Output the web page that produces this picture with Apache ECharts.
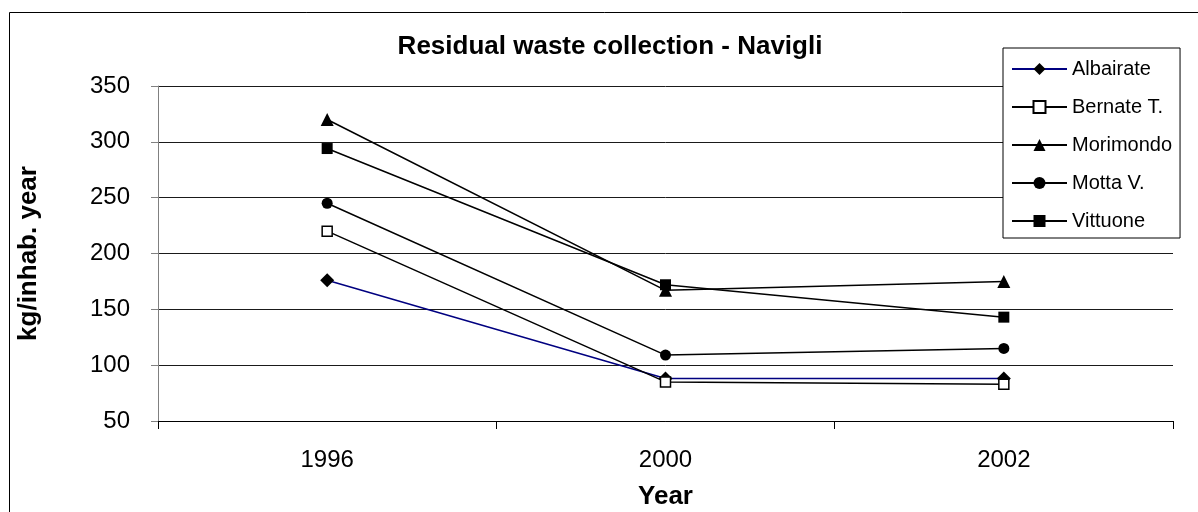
<!DOCTYPE html>
<html>
<head>
<meta charset="utf-8">
<script src="https://cdn.jsdelivr.net/npm/echarts@6/dist/echarts.min.js"></script>
<style>
  html, body { margin: 0; padding: 0; background: #fff; }
  #chart { width: 1198px; height: 512px; }
</style>
</head>
<body>
<div id="chart"></div>
<script>
// Residual waste per inhabitant, kg/year, for the Navigli municipalities
const years = ['1996', '2000', '2002'];
const albairate = [176, 88, 88];
const bernate = [220, 85, 83];
const morimondo = [320, 167, 175];
const motta = [245, 109, 115];
const vittuone = [294, 172, 143];

const FONT = '"Liberation Sans", Arial, sans-serif';

function lineSeries(name, data, symbol, size, fill, lineColor) {
  return {
    name: name,
    type: 'line',
    data: data,
    symbol: symbol,
    symbolSize: size,
    showAllSymbol: true,
    itemStyle: { color: fill, borderColor: '#000', borderWidth: fill === '#fff' ? 1.5 : 0 },
    lineStyle: { color: lineColor, width: 1.5 },
    emphasis: { disabled: true },
    animation: false
  };
}

const chart = echarts.init(document.getElementById('chart'));
chart.setOption({
  backgroundColor: '#fff',
  animation: false,
  textStyle: { fontFamily: FONT },
  grid: {
    left: 158, right: 25, top: 86, bottom: 91,
    containLabel: false, outerBoundsMode: 'none'
  },
  graphic: [
    {
      type: 'rect', silent: true, z: -1,
      shape: { x: 9.5, y: 12.5, width: 1220, height: 540 },
      style: { fill: 'none', stroke: '#000', lineWidth: 1 }
    },
    {
      type: 'text', silent: true,
      style: {
        x: 610, y: 47, text: 'Residual waste collection - Navigli',
        fontFamily: FONT, fontSize: 26, fontWeight: 'bold', fill: '#000',
        textAlign: 'center', textVerticalAlign: 'middle'
      }
    }
  ],
  legend: {
    orient: 'vertical',
    left: 1003, top: 48,
    padding: [11, 8, 7, 8],
    itemWidth: 55, itemHeight: 15, itemGap: 18,
    backgroundColor: '#fff',
    borderColor: '#000', borderWidth: 1,
    textStyle: { fontFamily: FONT, fontSize: 20, color: '#000', lineHeight: 20 },
    data: ['Albairate', 'Bernate T.', 'Morimondo', 'Motta V.', 'Vittuone']
  },
  xAxis: {
    type: 'category',
    data: years,
    boundaryGap: true,
    name: 'Year',
    nameLocation: 'middle',
    nameGap: 63,
    nameTextStyle: { fontFamily: FONT, fontSize: 26, fontWeight: 'bold', color: '#000' },
    axisLine: { lineStyle: { color: '#000', width: 1 } },
    axisTick: { show: true, length: 8, lineStyle: { color: '#000' } },
    axisLabel: { fontFamily: FONT, fontSize: 24, color: '#000', margin: 27 },
    splitLine: { show: false }
  },
  yAxis: {
    type: 'value',
    min: 50, max: 350, interval: 50,
    name: 'kg/inhab. year',
    nameLocation: 'middle',
    nameGap: 116,
    nameTextStyle: { fontFamily: FONT, fontSize: 26, fontWeight: 'bold', color: '#000' },
    axisLine: { show: true, lineStyle: { color: '#808080', width: 1 } },
    axisTick: { show: true, length: 7, lineStyle: { color: '#808080' } },
    axisLabel: { fontFamily: FONT, fontSize: 24, color: '#000', margin: 28 },
    splitLine: { show: true, lineStyle: { color: '#1a1a1a', width: 1 } }
  },
  series: [
    lineSeries('Albairate', albairate, 'diamond', 14, '#000', '#000080'),
    lineSeries('Bernate T.', bernate, 'rect', 10, '#fff', '#000'),
    lineSeries('Morimondo', morimondo, 'triangle', 13, '#000', '#000'),
    lineSeries('Motta V.', motta, 'circle', 11, '#000', '#000'),
    lineSeries('Vittuone', vittuone, 'rect', 11, '#000', '#000')
  ]
});
</script>
</body>
</html>
